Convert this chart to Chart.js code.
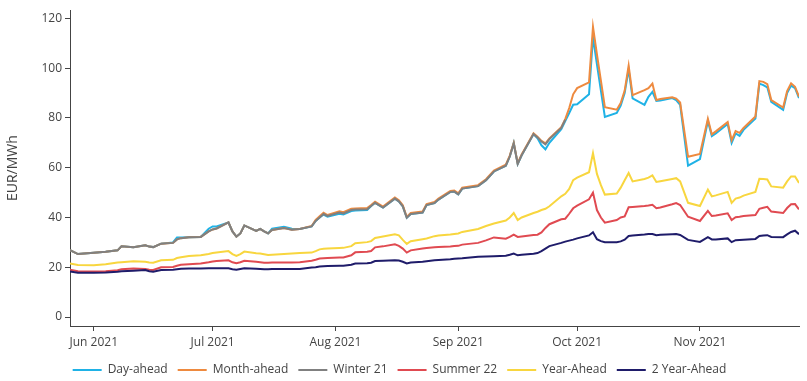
<!DOCTYPE html>
<html><head><meta charset="utf-8">
<script src="https://cdn.jsdelivr.net/npm/chart.js@4.4.1/dist/chart.umd.min.js"></script>
<style>html,body{margin:0;padding:0;background:#fff}#wrap{width:807px;height:381px;position:relative}</style>
</head><body><div id="wrap"><canvas id="c" width="807" height="381"></canvas></div>
<script>
const dates = [
'2021-05-26','2021-05-28','2021-06-01','2021-06-04','2021-06-07','2021-06-08','2021-06-11','2021-06-14','2021-06-15','2021-06-16',
'2021-06-18','2021-06-21','2021-06-22','2021-06-23','2021-06-25','2021-06-28','2021-06-30','2021-07-01','2021-07-02','2021-07-05',
'2021-07-06','2021-07-07','2021-07-08','2021-07-09','2021-07-12','2021-07-13','2021-07-14','2021-07-15','2021-07-16','2021-07-19',
'2021-07-21','2021-07-23','2021-07-26','2021-07-27','2021-07-28','2021-07-29','2021-07-30','2021-08-02','2021-08-03','2021-08-05',
'2021-08-06','2021-08-09','2021-08-10','2021-08-11','2021-08-13','2021-08-16','2021-08-17','2021-08-18','2021-08-19','2021-08-20',
'2021-08-23','2021-08-24','2021-08-26','2021-08-27','2021-08-30','2021-08-31','2021-09-01','2021-09-02','2021-09-06','2021-09-08',
'2021-09-10','2021-09-13','2021-09-14','2021-09-15','2021-09-16','2021-09-17','2021-09-20','2021-09-21','2021-09-22','2021-09-23',
'2021-09-24','2021-09-27','2021-09-28','2021-09-29','2021-09-30','2021-10-01','2021-10-04','2021-10-05','2021-10-06','2021-10-07',
'2021-10-08','2021-10-11','2021-10-12','2021-10-13','2021-10-14','2021-10-15','2021-10-18','2021-10-19','2021-10-20','2021-10-21',
'2021-10-22','2021-10-25','2021-10-26','2021-10-27','2021-10-29','2021-11-01','2021-11-03','2021-11-04','2021-11-05','2021-11-08',
'2021-11-09','2021-11-10','2021-11-11','2021-11-12','2021-11-15','2021-11-16','2021-11-17','2021-11-18','2021-11-19','2021-11-22',
'2021-11-23','2021-11-24','2021-11-25','2021-11-26'
];
const dayAhead = [
26.9,25.3,25.8,26.2,26.8,28.4,28.0,28.8,28.3,28.1,
29.5,30.0,32.0,32.0,32.1,32.2,35.5,36.4,36.4,38.0,
34.4,32.3,33.6,36.8,34.6,35.4,34.4,33.6,35.5,36.3,
35.5,35.4,36.4,38.6,40.0,41.2,40.3,41.5,41.2,42.6,
42.8,43.0,44.6,45.9,44.0,47.6,46.5,44.5,39.9,41.4,
42.0,45.0,45.8,47.2,50.3,50.4,49.3,51.6,52.6,55.0,
58.5,60.8,64.5,70.0,61.5,65.0,73.5,71.8,69.0,67.4,
70.0,75.5,78.8,82.0,85.3,85.5,89.5,112.5,101.5,91.0,
80.4,82.0,85.0,90.0,99.5,87.9,85.3,88.5,90.5,86.8,
87.0,88.0,87.2,85.3,60.8,63.5,78.8,72.7,73.8,77.6,
70.0,73.8,72.8,75.2,79.8,93.8,93.2,92.3,86.5,83.3,
90.0,93.0,92.0,88.0
];
const monthAhead = [
26.9,25.3,25.8,26.2,26.8,28.4,28.0,28.8,28.3,28.1,
29.5,29.8,31.2,31.7,32.1,32.2,34.4,35.2,35.6,38.0,
34.4,32.3,33.6,36.8,34.6,35.4,34.4,33.6,35.0,35.8,
35.1,35.4,36.6,39.0,40.5,41.9,41.0,42.5,42.1,43.5,
43.6,43.8,45.0,46.3,44.4,48.0,46.9,44.9,40.2,41.8,
42.4,45.4,46.2,47.6,50.7,50.8,49.7,52.0,53.0,55.4,
58.9,61.2,64.9,70.0,61.8,65.3,73.8,72.5,70.8,69.8,
71.8,76.3,79.5,84.0,89.5,92.0,94.3,116.6,105.5,95.0,
84.3,83.3,86.0,91.0,101.0,89.2,91.2,92.0,93.8,87.2,
87.6,88.3,87.8,86.2,64.4,65.5,79.7,73.4,74.6,78.4,
71.0,74.7,74.0,76.0,80.6,94.8,94.5,93.6,87.2,84.2,
90.8,93.9,92.5,88.6
];
const winter21 = [
26.9,25.3,25.8,26.2,26.8,28.4,28.0,28.8,28.3,28.1,
29.5,29.8,31.2,31.7,32.1,32.2,34.4,35.2,35.6,38.0,
34.4,32.3,33.6,36.8,34.6,35.4,34.4,33.6,35.0,35.8,
35.1,35.4,36.4,38.6,40.0,41.4,40.6,42.0,41.6,43.0,
43.2,43.3,44.6,45.9,44.0,47.6,46.5,44.5,39.9,41.4,
42.0,45.0,45.8,47.2,50.3,50.4,49.3,51.6,52.6,55.0,
58.5,60.8,64.5,69.7,61.5,65.0,73.5,72.2,70.5,69.4,
71.5,76.0,79.3,null,null,null,null,null,null,null,
null,null,null,null,null,null,null,null,null,null,
null,null,null,null,null,null,null,null,null,null,
null,null,null,null,null,null,null,null,null,null,
null,null,null,null
];
const summer22 = [
19.0,18.4,18.3,18.4,18.8,19.2,19.5,19.3,19.0,18.9,
20.0,20.1,20.6,21.0,21.2,21.5,22.0,22.3,22.5,22.8,
22.0,21.6,22.0,22.6,22.2,22.0,21.8,21.8,21.9,21.9,
21.9,22.0,22.6,23.0,23.5,23.6,23.7,23.9,23.9,24.8,
26.0,26.2,26.5,28.0,28.4,29.2,28.6,27.5,25.9,26.8,
27.5,27.7,28.0,28.1,28.3,28.5,28.6,29.1,29.8,30.8,
32.0,31.5,32.2,33.1,32.2,32.4,33.0,33.1,34.0,35.8,
37.3,39.3,39.5,41.5,43.7,44.8,47.3,50.0,43.0,40.0,
37.9,39.0,40.0,40.4,44.1,44.2,44.6,44.8,45.1,43.7,
44.0,45.3,45.8,45.0,40.3,38.6,42.7,40.6,40.8,41.7,
39.0,40.1,40.3,40.6,41.0,43.5,43.9,44.3,42.4,41.8,
43.8,45.3,45.4,43.3
];
const yearAhead = [
21.5,20.9,20.8,21.2,21.9,22.0,22.4,22.2,21.9,21.8,
22.8,23.0,23.7,24.0,24.5,24.8,25.3,25.7,25.9,26.5,
25.3,24.6,25.3,26.3,25.6,25.5,25.2,24.9,25.0,25.3,
25.5,25.7,25.9,26.5,27.2,27.4,27.5,27.7,27.8,28.5,
29.7,30.1,30.5,31.8,32.4,33.3,32.8,31.0,29.4,30.5,
31.3,31.6,32.5,32.8,33.2,33.4,33.6,34.2,35.4,36.6,
37.6,38.8,40.0,41.8,39.0,40.0,41.8,42.3,43.0,43.5,
44.5,48.5,49.5,51.5,55.0,56.0,58.2,65.9,57.5,53.0,
49.2,49.6,52.0,55.0,57.9,54.5,55.5,56.0,56.9,54.3,
54.6,55.5,55.8,54.5,45.9,44.6,51.2,48.5,48.9,50.3,
45.9,47.6,48.0,48.8,50.3,55.6,55.5,55.3,52.5,52.0,
54.5,56.5,56.5,53.9
];
const twoYearAhead = [
18.3,17.8,17.8,17.9,18.2,18.4,18.6,18.9,18.4,18.2,
18.9,19.0,19.2,19.4,19.5,19.5,19.6,19.6,19.6,19.6,
19.2,19.0,19.3,19.6,19.4,19.3,19.2,19.2,19.3,19.3,
19.3,19.3,19.9,20.0,20.3,20.4,20.5,20.6,20.6,21.0,
21.5,21.6,21.8,22.5,22.6,22.8,22.7,22.2,21.5,21.9,
22.2,22.4,22.8,22.9,23.2,23.4,23.5,23.6,24.2,24.3,
24.4,24.6,25.0,25.5,24.8,25.0,25.4,25.7,26.5,27.5,
28.5,29.8,30.3,30.7,31.1,31.6,32.8,34.1,31.3,30.5,
30.1,30.1,30.4,31.1,32.6,32.8,33.2,33.4,33.4,32.9,
33.1,33.3,33.4,33.0,31.0,30.2,32.1,31.2,31.2,31.6,
30.1,30.9,31.0,31.1,31.4,32.6,32.8,32.9,32.2,32.1,
33.2,34.2,34.7,33.3
];
const seriesNames = ['Day-ahead','Month-ahead','Winter 21','Summer 22','Year-Ahead','2 Year-Ahead'];
const seriesColors = ['#1fb2e6','#ee8a3f','#808080','#e04a51','#f8d63f','#1f1c6a'];
const yTickValues = [0,20,40,60,80,100,120];
const xTickDates = ['2021-06-01','2021-07-01','2021-08-01','2021-09-01','2021-10-01','2021-11-01'];
const monthNames = ['Jan','Feb','Mar','Apr','May','Jun','Jul','Aug','Sep','Oct','Nov','Dec'];
const yTitle = 'EUR/MWh';

function toDay(s){const p=s.split('-').map(Number);return Date.UTC(p[0],p[1]-1,p[2])/86400000;}
function dayLabel(v){const d=new Date(v*86400000);return monthNames[d.getUTCMonth()]+' '+d.getUTCFullYear();}

const allSeries=[dayAhead,monthAhead,winter21,summer22,yearAhead,twoYearAhead];
const datasets=allSeries.map((arr,i)=>({
  label:seriesNames[i],
  data:dates.map((d,j)=>({x:toDay(d),y:arr[j]})),
  borderColor:seriesColors[i],
  backgroundColor:seriesColors[i],
  borderWidth:2,
  pointRadius:0,
  tension:0,
  spanGaps:false,
  order:5-i
}));

const font={family:"'Open Sans', sans-serif",size:12};
const axisColor='#444';

const legendShift={id:'legendShift',afterLayout(chart){if(chart.legend){chart.legend.top+=5;chart.legend.bottom+=5;}}};

new Chart(document.getElementById('c'),{
  type:'line',
  data:{datasets},
  plugins:[legendShift],
  options:{
    responsive:false,
    animation:false,
    events:[],
    layout:{padding:{top:4,right:8,left:0,bottom:0}},
    plugins:{
      tooltip:{enabled:false},
      legend:{
        position:'bottom',
        labels:{
          boxWidth:29,boxHeight:2,padding:10,color:axisColor,font,
          sort:(a,b)=>a.datasetIndex-b.datasetIndex,
          generateLabels(chart){
            const items=Chart.defaults.plugins.legend.labels.generateLabels(chart);
            return items.map(it=>Object.assign(it,{fillStyle:it.strokeStyle,lineWidth:0}));
          }
        }
      }
    },
    scales:{
      x:{
        type:'linear',
        min:toDay(dates[0]),max:toDay(dates[dates.length-1]),
        afterBuildTicks:s=>{s.ticks=xTickDates.map(d=>({value:toDay(d)}));},
        afterFit:s=>{s.height=23;},
        ticks:{callback:v=>dayLabel(v),color:axisColor,font,maxRotation:0,autoSkip:false,padding:4},
        grid:{drawOnChartArea:false,drawTicks:true,tickLength:5,color:axisColor},
        border:{display:true,color:axisColor,width:1}
      },
      y:{
        min:-3.6,max:123.3,
        afterBuildTicks:s=>{s.ticks=yTickValues.map(v=>({value:v}));},
        afterFit:s=>{s.width=70;},
        ticks:{color:axisColor,font,padding:3},
        grid:{drawOnChartArea:false,drawTicks:true,tickLength:5,color:axisColor},
        border:{display:true,color:axisColor,width:1},
        title:{display:true,text:yTitle,color:axisColor,font:{family:"'Open Sans', sans-serif",size:14},padding:{top:5,bottom:0}}
      }
    }
  }
});
</script>
</body></html>
